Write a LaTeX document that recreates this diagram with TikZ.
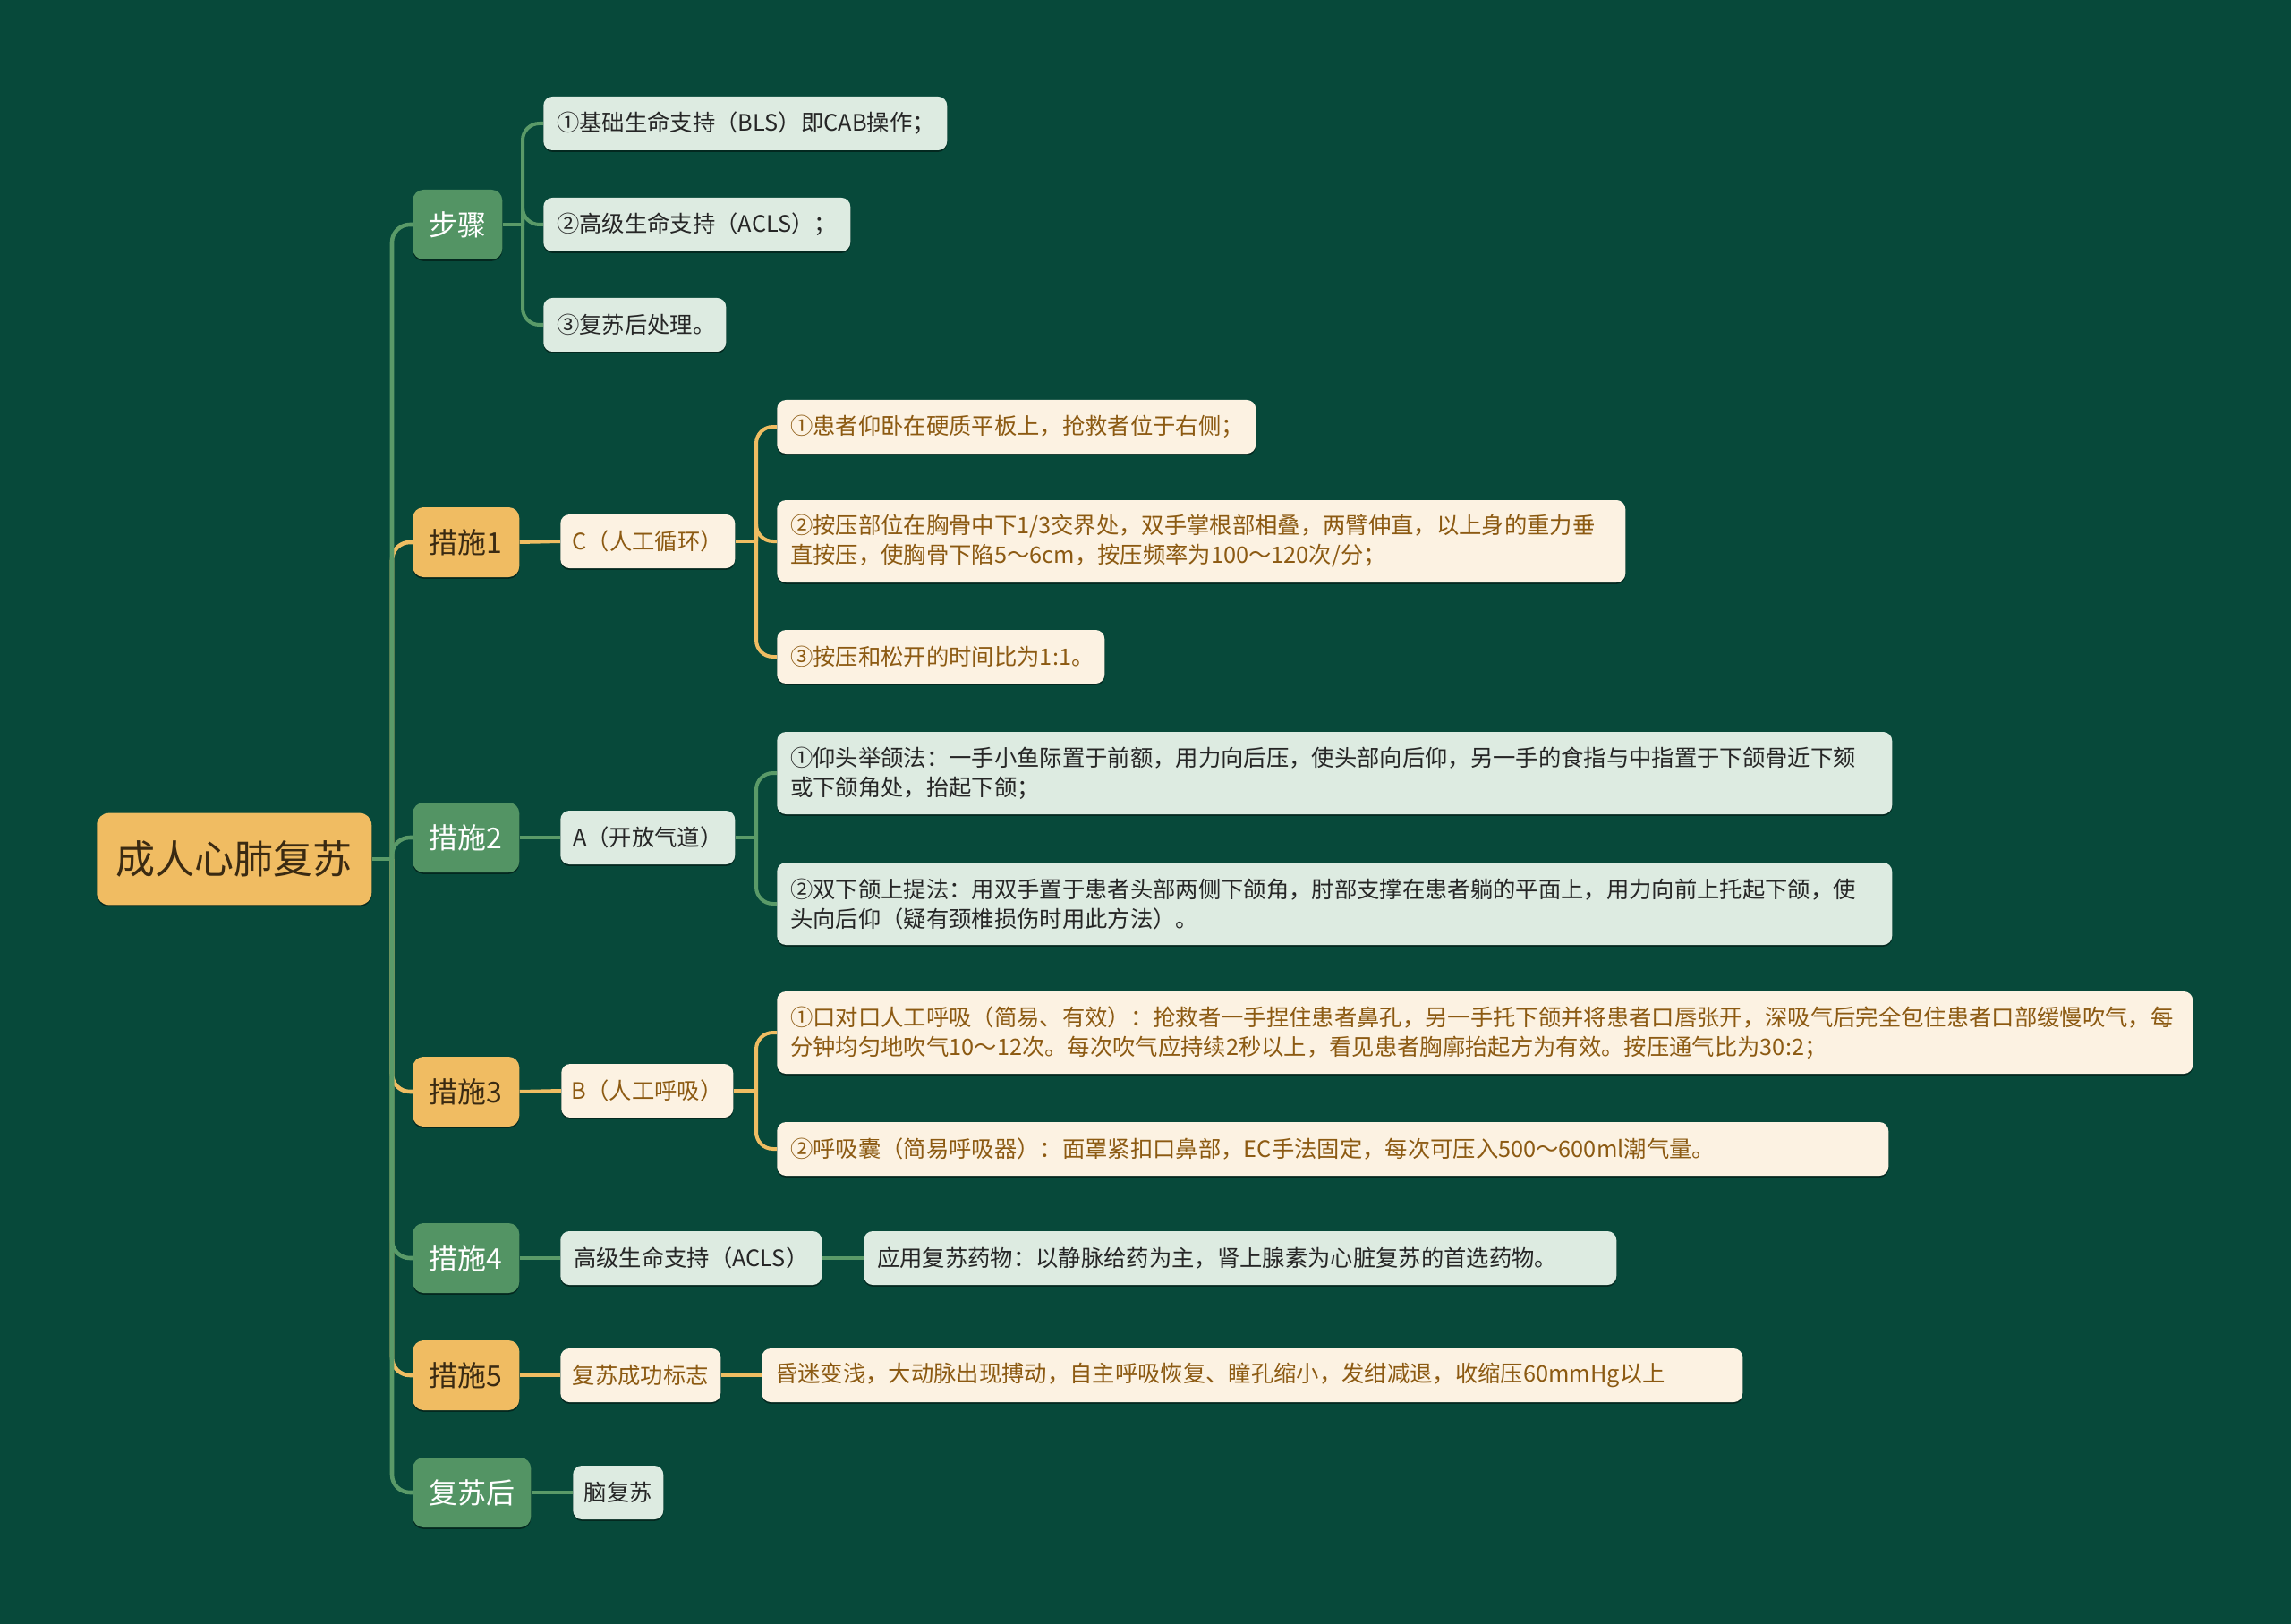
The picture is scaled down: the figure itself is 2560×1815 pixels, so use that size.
\documentclass[tikz,border=0pt]{standalone}
\usepackage{fontspec}
\setmainfont{Noto Sans CJK SC}
\usetikzlibrary{shadows}
\pgfdeclarelayer{bglayer}
\pgfdeclarelayer{linelayer}
\pgfsetlayers{bglayer,linelayer,main}
\definecolor{bgc}{HTML}{07493A}
\definecolor{gnode}{HTML}{539464}
\definecolor{ynode}{HTML}{F0BC62}
\definecolor{gleaf}{HTML}{DDEBE1}
\definecolor{yleaf}{HTML}{FCF2E2}
\definecolor{gline}{HTML}{5A9A68}
\definecolor{yline}{HTML}{EFBD62}
\definecolor{ytext}{HTML}{8C5A12}
\definecolor{dtext}{HTML}{3A2A12}
\definecolor{ltext}{HTML}{262626}
\tikzset{
  shad/.style={drop shadow={shadow xshift=0pt, shadow yshift=-1.4pt, opacity=0.45, fill=black}},
  rootbox/.style={shad, fill=ynode, text=dtext, rounded corners=10pt, anchor=west, inner sep=0pt,
    minimum width=230.25pt, minimum height=77pt, font=\fontsize{33}{37}\selectfont},
  lone/.style={shad, rounded corners=9pt, anchor=west, inner sep=0pt, minimum height=58.5pt,
    font=\fontsize{24}{27}\selectfont},
  lg/.style={lone, fill=gnode, text=white},
  ly/.style={lone, fill=ynode, text=dtext},
  ltwo/.style={shad, rounded corners=7.5pt, anchor=west, inner sep=0pt, minimum height=45pt,
    font=\fontsize{19}{24.75}\selectfont},
  mg/.style={ltwo, fill=gleaf, text=ltext},
  my/.style={ltwo, fill=yleaf, text=ytext},
  leaf/.style={shad, rounded corners=7.5pt, anchor=west, inner xsep=11.25pt, inner ysep=4pt,
    minimum height=45pt, align=left, font=\fontsize{19}{24.75}\selectfont},
  fg/.style={leaf, fill=gleaf, text=ltext},
  fy/.style={leaf, fill=yleaf, text=ytext},
  glin/.style={draw=gline, line width=3.4pt},
  ylin/.style={draw=yline, line width=3.4pt},
  gmain/.style={draw=gline, line width=3.4pt, rounded corners=15pt},
  ymain/.style={draw=yline, line width=3.4pt, rounded corners=15pt},
  gsub/.style={draw=gline, line width=3pt, rounded corners=14pt},
  ysub/.style={draw=yline, line width=3pt, rounded corners=14pt},
}
\begin{document}
\begin{tikzpicture}[x=0.75pt,y=-0.75pt]
\begin{pgfonlayer}{bglayer}
\fill[bgc] (0,0) rectangle (2560,1815);
\end{pgfonlayer}
\useasboundingbox (0,0) rectangle (2560,1815);

% root
\node[rootbox] (root) at (108,960) {成人心肺复苏};

% level 1
\node[lg, minimum width=75pt]  (buzhou) at (461,251) {步骤};
\node[ly, minimum width=89.25pt] (cs1) at (461,606) {措施1};
\node[lg, minimum width=89.25pt] (cs2) at (461,936) {措施2};
\node[ly, minimum width=89.25pt] (cs3) at (461,1220) {措施3};
\node[lg, minimum width=89.25pt] (cs4) at (461,1406) {措施4};
\node[ly, minimum width=89.25pt] (cs5) at (461,1537) {措施5};
\node[lg, minimum width=99pt]  (fsh) at (461,1668) {复苏后};

% level 2
\node[my, minimum width=146.25pt] (cC) at (626,605) {C（人工循环）};
\node[mg, minimum width=146.25pt] (cA) at (626,936) {A（开放气道）};
\node[my, minimum width=144pt] (cB) at (627,1219) {B（人工呼吸）};
\node[mg, minimum width=219pt] (cACLS) at (626,1406) {高级生命支持（ACLS）};
\node[my, minimum width=134.25pt] (cOK) at (626,1537) {复苏成功标志};
\node[mg, minimum width=75.75pt] (cNao) at (640,1668) {脑复苏};

% leaves of 步骤
\node[fg, text width=315.75pt] (s1) at (607,138) {①基础生命支持（BLS）即CAB操作；};
\node[fg, text width=234.75pt] (s2) at (607,251) {②高级生命支持（ACLS）；};
\node[fg, text width=130.5pt] (s3) at (607,363) {③复苏后处理。};

% leaves of C
\node[fy, text width=378.75pt] (c1) at (868,477) {①患者仰卧在硬质平板上，抢救者位于右侧；};
\node[fy, text width=688.5pt, minimum height=69pt] (c2) at (868,605) {②按压部位在胸骨中下1/3交界处，双手掌根部相叠，两臂伸直，以上身的重力垂\\直按压，使胸骨下陷5～6cm，按压频率为100～120次/分；};
\node[fy, text width=252pt] (c3) at (868,734) {③按压和松开的时间比为1:1。};

% leaves of A
\node[fg, text width=912pt, minimum height=69pt] (a1) at (868,864) {①仰头举颌法：一手小鱼际置于前额，用力向后压，使头部向后仰，另一手的食指与中指置于下颌骨近下颏\\或下颌角处，抬起下颌；};
\node[fg, text width=912pt, minimum height=69pt] (a2) at (868,1010) {②双下颌上提法：用双手置于患者头部两侧下颌角，肘部支撑在患者躺的平面上，用力向前上托起下颌，使\\头向后仰（疑有颈椎损伤时用此方法）。};

% leaves of B
\node[fy, text width=1164pt, minimum height=69pt] (b1) at (868,1154) {①口对口人工呼吸（简易、有效）：抢救者一手捏住患者鼻孔，另一手托下颌并将患者口唇张开，深吸气后完全包住患者口部缓慢吹气，每\\分钟均匀地吹气10～12次。每次吹气应持续2秒以上，看见患者胸廓抬起方为有效。按压通气比为30:2；};
\node[fy, text width=909pt] (b2) at (868,1284) {②呼吸囊（简易呼吸器）：面罩紧扣口鼻部，EC手法固定，每次可压入500～600ml潮气量。};

% other leaves
\node[fg, text width=608.25pt] (d1) at (965,1406) {应用复苏药物：以静脉给药为主，肾上腺素为心脏复苏的首选药物。};
\node[fy, text width=799.5pt] (e1) at (851,1537) {昏迷变浅，大动脉出现搏动，自主呼吸恢复、瞳孔缩小，发绀减退，收缩压60mmHg以上};

% ---- connectors ----
\begin{pgfonlayer}{linelayer}
\coordinate (j0) at (438,960);
\coordinate (jb) at (584,251);
\coordinate (jc) at (845,605);
\coordinate (ja) at (845,936);
\coordinate (jbb) at (845,1219);
% spine
\draw[ymain] (j0) |- (cs1.west);
\draw[ymain] (j0) |- (cs3.west);
\draw[ymain] (j0) |- (cs5.west);
\draw[gmain] (j0) |- (buzhou.west);
\draw[gmain] (j0) |- (cs2.west);
\draw[gmain] (j0) |- (cs4.west);
\draw[gmain] (j0) |- (fsh.west);
\draw[glin] (root.east) -- (j0);
% 步骤
\draw[gsub] (buzhou.east) -- (jb);
\draw[gsub] (jb) |- (s1.west);
\draw[gsub] (jb) |- (s2.west);
\draw[gsub] (jb) |- (s3.west);
% 措施1
\draw[ysub] (cs1.east) -- (cC.west);
\draw[ysub] (cC.east) -- (jc);
\draw[ysub] (jc) |- (c1.west);
\draw[ysub] (jc) |- (c2.west);
\draw[ysub] (jc) |- (c3.west);
% 措施2
\draw[gsub] (cs2.east) -- (cA.west);
\draw[gsub] (cA.east) -- (ja);
\draw[gsub] (ja) |- (a1.west);
\draw[gsub] (ja) |- (a2.west);
% 措施3
\draw[ysub] (cs3.east) -- (cB.west);
\draw[ysub] (cB.east) -- (jbb);
\draw[ysub] (jbb) |- (b1.west);
\draw[ysub] (jbb) |- (b2.west);
% 措施4, 5, 复苏后
\draw[gsub] (cs4.east) -- (cACLS.west);
\draw[gsub] (cACLS.east) -- (d1.west);
\draw[ysub] (cs5.east) -- (cOK.west);
\draw[ysub] (cOK.east) -- (e1.west);
\draw[gsub] (fsh.east) -- (cNao.west);
\end{pgfonlayer}
\end{tikzpicture}
\end{document}
